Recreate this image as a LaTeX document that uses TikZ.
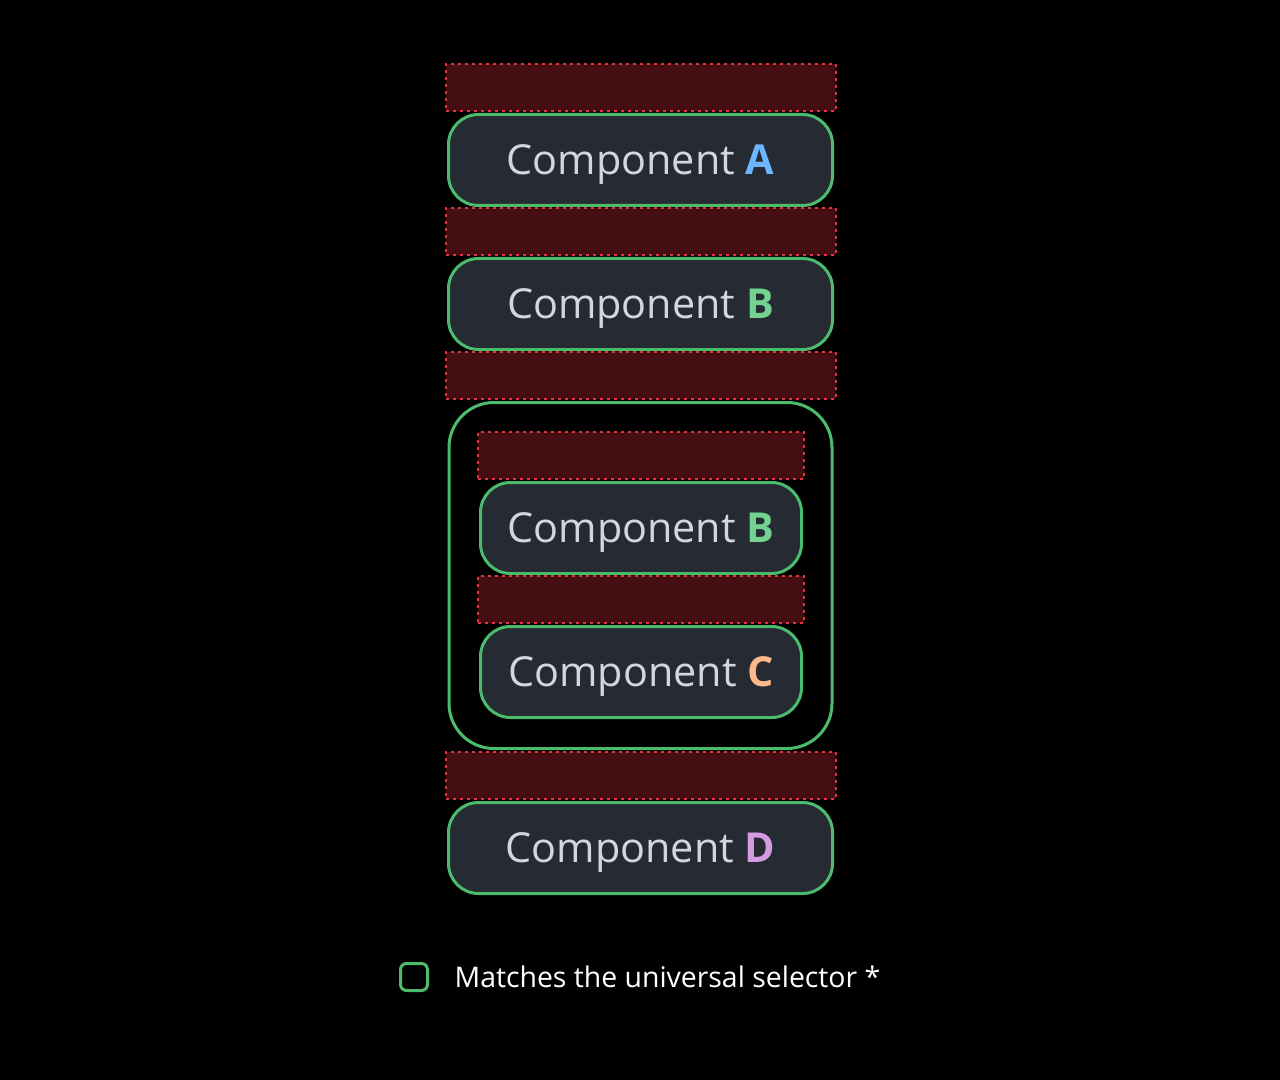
\documentclass[tikz,border=0pt]{standalone}
\usepackage{fontspec}
\setmainfont{Open Sans}
\usetikzlibrary{positioning}

\definecolor{bgblack}{HTML}{000000}
\definecolor{matchgreen}{HTML}{4CBB6C}
\definecolor{boxfill}{HTML}{262A33}
\definecolor{bandfill}{HTML}{450E12}
\definecolor{banddash}{HTML}{E5343F}
\definecolor{labelgray}{HTML}{D1D7E0}
\definecolor{letterA}{HTML}{6CB6FF}
\definecolor{letterB}{HTML}{72D28F}
\definecolor{letterC}{HTML}{FFB88A}
\definecolor{letterD}{HTML}{D49BE3}

\begin{document}
\begin{tikzpicture}[
            x=0.75pt, y=-0.75pt,
            comp/.style={draw=matchgreen,line width=2.25pt,fill=boxfill,rectangle,rounded corners=22.5pt,
                minimum width=288pt,minimum height=68.25pt,inner sep=0pt,
                text height=22pt,text depth=0pt,
                text=labelgray,font=\fontsize{31}{38}\selectfont},
            innercomp/.style={comp,minimum width=240.75pt},
            band/.style={draw=banddash,line width=1pt,dash pattern=on 2.25pt off 3pt,fill=bandfill,
                rectangle,minimum width=292.5pt,minimum height=35.25pt,inner sep=0pt},
            innerband/.style={band,minimum width=244.5pt},
            container/.style={draw=matchgreen,line width=2.25pt,rectangle,rounded corners=33.75pt,
                minimum width=287.25pt,minimum height=259.5pt,inner sep=0pt}
        ]

        \fill[bgblack] (0,0) rectangle (1280,1080);
        \useasboundingbox (0,0) rectangle (1280,1080);

        % main column
        \node[band] (band1) at (641,87.5) {};
        \node[comp] (compA) at (640.5,160) {Component \textcolor{letterA}{\textbf{A}}};
        \node[band] (band2) at (641,231.5) {};
        \node[comp] (compB) at (640.5,304) {Component \textcolor{letterB}{\textbf{B}}};
        \node[band] (band3) at (641,375.5) {};

        % nested group
        \node[container] (group) at (640.5,575.5) {};
        \node[innerband] (band4) at (641,455.5) {};
        \node[innercomp] (compB2) at (641,528) {Component \textcolor{letterB}{\textbf{B}}};
        \node[innerband] (band5) at (641,599.5) {};
        \node[innercomp] (compC) at (641,672) {Component \textcolor{letterC}{\textbf{C}}};

        \node[band] (band6) at (641,775.5) {};
        \node[comp] (compD) at (640.5,848) {Component \textcolor{letterD}{\textbf{D}}};

        % legend
        \node[draw=matchgreen,line width=2.25pt,rounded corners=4.5pt,minimum size=20.25pt,inner sep=0pt] (legendbox) at (414,977) {};
        \node[right=19pt of legendbox,inner sep=0pt,text=white,font=\fontsize{21.3}{26}\selectfont] (legendtext) {Matches the universal selector *};

\end{tikzpicture}
\end{document}
